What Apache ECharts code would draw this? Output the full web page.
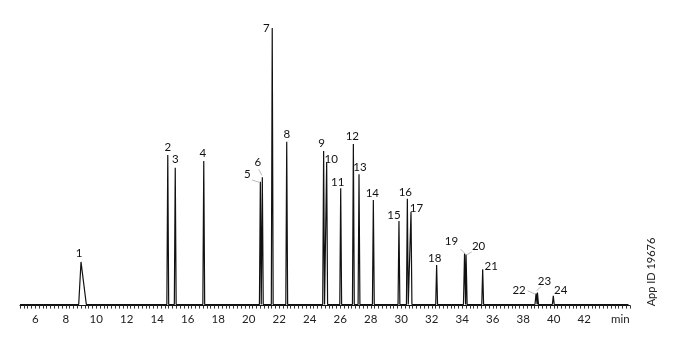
<!DOCTYPE html>
<html>
<head>
<meta charset="utf-8">
<script src="https://cdn.jsdelivr.net/npm/echarts@6/dist/echarts.min.js"></script>
<style>
html,body{margin:0;padding:0;background:#fff;}
#c{width:677px;height:348px;}
</style>
</head>
<body>
<div id="c"></div>
<script>
// ---- data ----
const peakIds     = [1,2,3,4,5,6,7,8,9,10,11,12,13,14,15,16,17,18,19,20,21,22,23,24];
const peakTimes   = [9.00,14.69,15.18,17.05,20.76,20.89,21.54,22.49,24.91,25.11,26.03,26.86,27.23,28.17,29.85,30.40,30.64,32.32,34.15,34.25,35.34,38.84,38.93,39.97];
const peakHeights = [15.4,54.1,49.5,51.9,44.4,46.0,100,58.9,55.5,51.4,42.0,58.0,47.1,37.8,30.2,38.2,33.5,14.3,18.4,18.1,12.7,4.0,4.3,3.1];
const peakWidthL  = [0.15,0.06,0.06,0.06,0.06,0.06,0.06,0.06,0.06,0.06,0.06,0.06,0.06,0.06,0.06,0.06,0.06,0.06,0.07,0.07,0.06,0.07,0.07,0.06];
const peakWidthR  = [0.35,0.06,0.06,0.06,0.06,0.06,0.06,0.06,0.06,0.06,0.06,0.06,0.06,0.06,0.06,0.06,0.06,0.06,0.07,0.07,0.06,0.07,0.07,0.06];
const runStart = 5, runEnd = 44.9;
const tickLabels = [6,8,10,12,14,16,18,20,22,24,26,28,30,32,34,36,38,40,42];
const unitLabel = 'min';
const unitLabelAt = 44;
const appIdText = 'App ID 19676';

// ---- build trace from peaks ----
const trace = [[runStart, 0]];
for (let i = 0; i < peakTimes.length; i++) {
  trace.push([peakTimes[i] - peakWidthL[i], 0]);
  trace.push([peakTimes[i], peakHeights[i]]);
  trace.push([peakTimes[i] + peakWidthR[i], 0]);
}
trace.push([runEnd, 0]);

// label placement (style): [dx, dy] of label centre from apex, optional leader [x1,y1,x2,y2]
const labelStyle = {
  1:{d:[-2,-9]}, 2:{d:[0,-8]}, 3:{d:[0,-8.5]}, 4:{d:[-1,-8]},
  5:{d:[-13,-7.5], l:[-8.3,-1.7,-1.2,0.5]},
  6:{d:[-4.5,-15.5], l:[-3.6,-8,-0.4,-1.8]},
  7:{d:[-6,0.5]}, 8:{d:[0,-7.5]}, 9:{d:[-2,-8]}, 10:{d:[4.5,-3.5]},
  11:{d:[-3,-6]}, 12:{d:[-1,-8]}, 13:{d:[1,-7]}, 14:{d:[-1,-7]},
  15:{d:[-5,-5.5]}, 16:{d:[-2,-6.5]}, 17:{d:[5.5,-3.5]}, 18:{d:[-2,-7]},
  19:{d:[-13,-12], l:[-4,-4.5,0,-0.5]},
  20:{d:[12.5,-8.5], l:[5.7,-2.5,0.8,0.3]},
  21:{d:[8.6,-3.5]},
  22:{d:[-17,-3], l:[-8.4,-2.7,-1,0.6]},
  23:{d:[7,-11], l:[3.5,-6,-0.8,-1.7]},
  24:{d:[7.4,-5.5]}
};

const tickVals = [];
for (let v = runStart; v <= 45.0001; v += 0.25) tickVals.push(+v.toFixed(2));

const FONT = 'Lato, "Open Sans", sans-serif';
const chart = echarts.init(document.getElementById('c'), null, {renderer:'canvas'});
chart.setOption({
  animation: false,
  backgroundColor: '#fff',
  grid: {left: 20, right: 47, top: 28, bottom: 42.4, containLabel: false},
  xAxis: {
    type: 'value', min: 5, max: 45,
    axisLine: {show: true, onZero: false, lineStyle: {color: '#111', width: 1}},
    axisTick: {show: true, customValues: tickVals, length: 3, lineStyle: {color: '#333', width: 1}},
    axisLabel: {
      customValues: tickLabels.concat([unitLabelAt]),
      margin: 8, fontSize: 11.5, color: '#222', fontFamily: FONT,
      formatter: v => v === unitLabelAt ? '{u|' + unitLabel + '}' : String(v),
      rich: {u: {fontSize: 11.5, color: '#222', fontFamily: FONT, padding: [0, 0, 0, 11]}}
    },
    splitLine: {show: false}
  },
  yAxis: {type: 'value', min: -0.4, max: 100, show: false, splitLine: {show: false}},
  series: [
    {
      type: 'line', data: trace, showSymbol: false, symbol: 'none',
      lineStyle: {color: '#111', width: 1.2}, silent: true, z: 2
    },
    {
      type: 'custom', coordinateSystem: 'cartesian2d', silent: true, clip: false, z: 3,
      data: peakIds.map((id, i) => [peakTimes[i], peakHeights[i], id]),
      renderItem: function (params, api) {
        const id = api.value(2);
        const p = api.coord([api.value(0), api.value(1)]);
        const s = labelStyle[id];
        const children = [{
          type: 'text',
          style: {
            text: String(id), x: p[0] + s.d[0], y: p[1] + s.d[1],
            align: 'center', verticalAlign: 'middle',
            font: '11.5px ' + FONT, fill: '#111'
          }
        }];
        if (s.l) {
          children.push({
            type: 'line',
            shape: {x1: p[0] + s.l[0], y1: p[1] + s.l[1], x2: p[0] + s.l[2], y2: p[1] + s.l[3]},
            style: {stroke: '#aaa', lineWidth: 0.8}
          });
        }
        return {type: 'group', children: children};
      }
    }
  ],
  graphic: [{
    type: 'text', x: 651, y: 272, rotation: Math.PI / 2,
    style: {text: appIdText, align: 'center', verticalAlign: 'middle', font: '11px ' + FONT, fill: '#222'}
  }]
});
</script>
</body>
</html>
